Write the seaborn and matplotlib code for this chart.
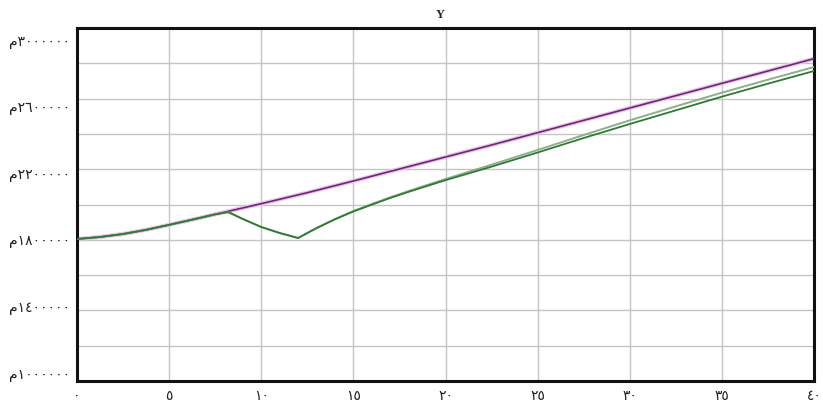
import numpy as np
import pandas as pd
import seaborn as sns
import matplotlib
matplotlib.use("Agg")
import matplotlib.pyplot as plt

# ---- data ----
t_purple = [0, 1.25, 2.5, 3.75, 5, 6.25, 7.5, 10, 12.5, 15, 17.5, 20, 22.5, 25, 27.5, 30, 32.5, 35, 37.5, 40]
y_purple = [1800000, 1812000, 1830000, 1855000, 1885000, 1916000, 1948000, 2012000, 2078000, 2148000,
            2220000, 2292000, 2364000, 2438000, 2512000, 2586000, 2660000, 2734000, 2808000, 2882000]

t_green = [0, 1.25, 2.5, 3.75, 5, 6.25, 7.5, 8.2, 9, 10, 11, 12, 13, 14, 15, 16, 17, 18, 19, 20,
           22.5, 25, 27.5, 30, 32.5, 35, 37.5, 40]
y_green_light = [1800000, 1812000, 1830000, 1855000, 1885000, 1916000, 1948000, 1962000, 1920000,
                 1872000, 1836000, 1806000, 1866000, 1920000, 1968000, 2010000, 2050000, 2088000,
                 2124000, 2160000, 2246000, 2334000, 2424000, 2512000, 2596000, 2678000, 2756000, 2832000]
y_green_dark = [1800000, 1812000, 1830000, 1855000, 1885000, 1916000, 1948000, 1962000, 1920000,
                1872000, 1836000, 1806000, 1865000, 1918000, 1965000, 2006000, 2046000, 2083000,
                2118000, 2153000, 2234000, 2319000, 2406000, 2490000, 2572000, 2654000, 2732000, 2808000]

x_ticks = [0, 5, 10, 15, 20, 25, 30, 35, 40]
x_labels = ["٠", "٥", "١٠", "١٥", "٢٠", "٢٥", "٣٠", "٣٥", "٤٠"]
y_ticks = [1000000, 1400000, 1800000, 2200000, 2600000, 3000000]
y_labels = ["م١٠٠٠٠٠٠", "م١٤٠٠٠٠٠", "م١٨٠٠٠٠٠", "م٢٢٠٠٠٠٠", "م٢٦٠٠٠٠٠", "م٣٠٠٠٠٠٠"]
title = "Y"

# ---- plot ----
sns.set_theme(style="white")
plt.rcParams["font.family"] = ["DejaVu Sans"]

fig = plt.figure(figsize=(8.23, 4.02), dpi=100)
ax = fig.add_axes([77 / 823, 1 - 382 / 402, (814 - 77) / 823, (382 - 29) / 402])

ymin, ymax = 948000, 3066000
ax.set_xlim(0, 40)
ax.set_ylim(ymin, ymax)

# grid: 8 vertical divisions, 10 horizontal divisions
for gx in x_ticks[1:-1]:
    ax.axvline(gx, color="#c4c4c4", lw=1.0, zorder=0)
for gy in np.linspace(ymin, ymax, 11)[1:-1]:
    ax.axhline(gy, color="#c4c4c4", lw=1.0, zorder=0)

df_p = pd.DataFrame({"t": t_purple, "v": y_purple})
df_gl = pd.DataFrame({"t": t_green, "v": y_green_light})
df_gd = pd.DataFrame({"t": t_green, "v": y_green_dark})

sns.lineplot(data=df_p, x="t", y="v", ax=ax, color="#ebc4eb", lw=3.0, zorder=2)
sns.lineplot(data=df_p, x="t", y="v", ax=ax, color="#6a2a72", lw=1.2, zorder=3)
sns.lineplot(data=df_gl, x="t", y="v", ax=ax, color="#8fae8f", lw=1.4, zorder=3)
sns.lineplot(data=df_gd, x="t", y="v", ax=ax, color="#2f7a34", lw=1.3, zorder=4)

ax.set_xticks(x_ticks)
ax.set_xticklabels(x_labels, fontsize=10)
ax.set_yticks(y_ticks)
ax.set_yticklabels(y_labels, fontsize=10)
ax.tick_params(axis="both", length=0, colors="#222222")
ax.tick_params(axis="x", pad=5)
ax.tick_params(axis="y", pad=5)
ax.set_xlabel("")
ax.set_ylabel("")
ax.grid(False)

for s in ax.spines.values():
    s.set_visible(True)
    s.set_color("#111111")
    s.set_linewidth(2.2)

fig.text(440 / 823, 1 - 15 / 402, title, ha="center", va="center",
         fontsize=9, fontweight="bold", family=["Liberation Serif"])

fig.savefig("out.png", dpi=100)
